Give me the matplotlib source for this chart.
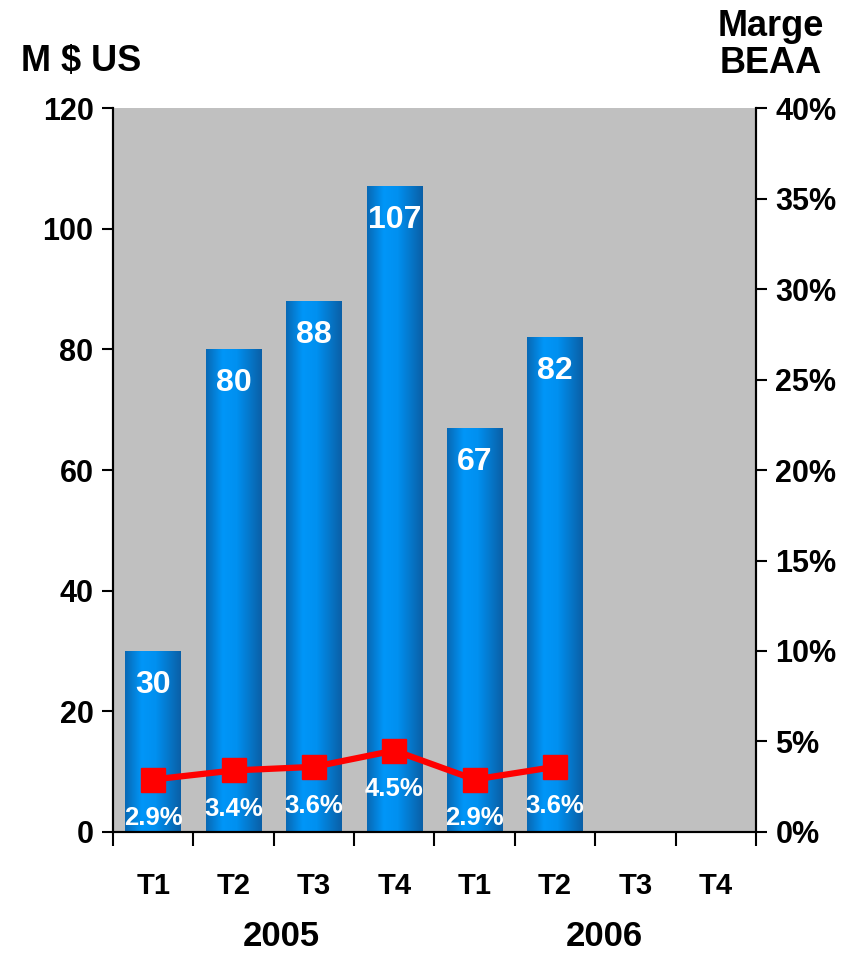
import numpy as np
import matplotlib.pyplot as plt
from matplotlib.colors import LinearSegmentedColormap

plt.rcParams['font.family'] = ['Liberation Sans', 'DejaVu Sans']
plt.rcParams['font.weight'] = 'bold'

quarters = ['T1', 'T2', 'T3', 'T4', 'T1', 'T2', 'T3', 'T4']
years = ['2005', '2006']
revenue = [30, 80, 88, 107, 67, 82]
margin = [2.9, 3.4, 3.6, 4.5, 2.9, 3.6]

fig = plt.figure(figsize=(8.61, 9.55), dpi=100)
ax = fig.add_axes([0.1312, 0.1288, 0.7468, 0.7581])
ax.set_facecolor('#c0c0c0')

x = np.arange(len(quarters))
bar_width = 0.69

# horizontal gradient for the bars
cmap = LinearSegmentedColormap.from_list(
    'barblue', [(0.0, '#0868b4'), (0.3, '#0096f8'), (0.55, '#0090f0'), (1.0, '#0a5fa6')])
grad = np.linspace(0, 1, 256).reshape(1, -1)

bars = ax.bar(x[:len(revenue)], revenue, bar_width, color='none', edgecolor='none', zorder=2)
for rect, val in zip(bars, revenue):
    x0 = rect.get_x()
    im = ax.imshow(grad, cmap=cmap, aspect='auto', zorder=2,
                   extent=(x0, x0 + rect.get_width(), 0, rect.get_height()))
    im.set_clip_path(rect)
    ax.text(x0 + rect.get_width() / 2, val - 5.6, str(val), color='white',
            fontsize=23, fontweight='bold', ha='center', va='center', zorder=5)
ax.set_xlim(-0.5, len(quarters) - 0.5)
ax.set_ylim(0, 120)

ax.set_yticks(np.arange(0, 121, 20))
ax.tick_params(axis='y', labelsize=22, length=8, width=1.5, pad=6)
ax.set_xticks(x)
ax.set_xticklabels(quarters, fontsize=21, fontweight='bold')
ax.tick_params(axis='x', which='major', length=0, pad=29)
ax.set_xticks(np.arange(-0.5, len(quarters), 1), minor=True)
ax.tick_params(axis='x', which='minor', length=10, width=1.5, direction='out')
for lab in ax.get_yticklabels():
    lab.set_fontweight('bold')

ax2 = ax.twinx()
ax2.set_ylim(0, 40)
ax2.set_yticks(np.arange(0, 41, 5))
ax2.set_yticklabels([f'{v}%' for v in range(0, 41, 5)], fontsize=22, fontweight='bold')
ax2.tick_params(axis='y', length=8, width=1.5, pad=6)
ax2.plot(x[:len(margin)], margin, color='red', linewidth=4.5, marker='s',
         markersize=17, zorder=4)
for xi, m in zip(x, margin):
    ax2.text(xi, m - 2.15, f'{m}%', color='white', fontsize=18.5, fontweight='bold',
             ha='center', va='center', zorder=5)

for a in (ax, ax2):
    a.spines['top'].set_visible(False)
    for s in ('left', 'right', 'bottom'):
        a.spines[s].set_linewidth(1.5)

ax.text(1.6, -0.145, years[0], transform=ax.get_xaxis_transform(), fontsize=25,
        fontweight='bold', ha='center', va='center')
ax.text(5.61, -0.145, years[1], transform=ax.get_xaxis_transform(), fontsize=25,
        fontweight='bold', ha='center', va='center')

fig.text(81 / 861, 1 - 62 / 955, 'M $ US', fontsize=26, fontweight='bold',
         ha='center', va='center')
fig.text(771 / 861, 1 - 45 / 955, 'Marge\nBEAA', fontsize=26, fontweight='bold',
         ha='center', va='center', linespacing=1.05)

fig.savefig('out.png', dpi=100)
